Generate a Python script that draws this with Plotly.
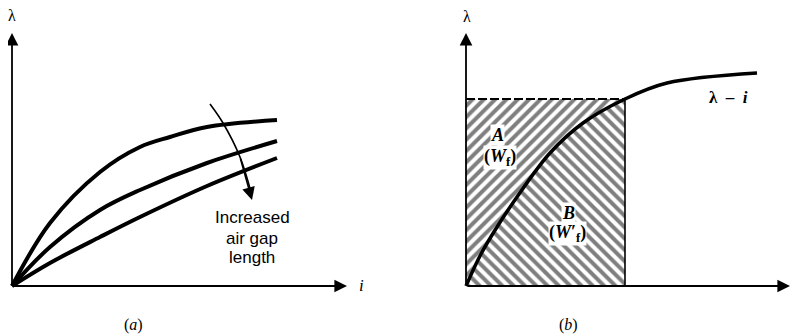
import plotly.graph_objects as go

# ---- panel (a): lambda-i curves for three air gap lengths ----
i_a = [0, 3.8, 8.8, 12.8, 15.8, 19.5, 26.5]
lam_top = [0, 6.3, 11.4, 13.9, 14.9, 15.9, 16.6]
i_ab = [0, 3.8, 8.8, 12.8, 19.5, 26.5]
lam_mid = [0, 3.9, 7.6, 9.6, 12.3, 14.5]
lam_low = [0, 2.3, 4.9, 6.9, 10.0, 12.8]

arrow_i = [19.8, 21.1, 22.8, 23.9]
arrow_lam = [18.2, 16.3, 12.9, 9.4]
arrow_tip = (24.0, 8.6)

# ---- panel (b): lambda-i curve with operating point ----
i_b = [0, 1.5, 3.1, 5.1, 8.4, 11.7, 15.9, 20.1, 29.1]
lam_b = [0, 3.2, 5.9, 8.9, 13.3, 16.3, 18.7, 20.3, 21.3]
i_op, lam_op = 15.9, 18.7
k_op = i_b.index(i_op)

axis_len_a = (33.5, 25.3)
axis_len_b = (32.4, 25.3)

serif = "Liberation Serif"
sans = "Liberation Sans"

fig = go.Figure()

# curves of panel (a)
fig.add_trace(go.Scatter(x=i_a, y=lam_top, mode="lines", line=dict(color="black", width=4, shape="spline"),
                         xaxis="x", yaxis="y"))
for lam in [lam_mid, lam_low]:
    fig.add_trace(go.Scatter(x=i_ab, y=lam, mode="lines", line=dict(color="black", width=4, shape="spline"),
                             xaxis="x", yaxis="y"))
# curved arrow shaft
fig.add_trace(go.Scatter(x=arrow_i, y=arrow_lam, mode="lines", line=dict(color="black", width=1.6, shape="spline"),
                         xaxis="x", yaxis="y"))

# whole rectangle hatched "/" (region A shows through above the curve)
fig.add_trace(go.Scatter(x=[0, 0, i_op, i_op], y=[0, lam_op, lam_op, 0], mode="lines", line=dict(width=0),
                         fill="toself", fillcolor="white",
                         fillpattern=dict(shape="/", fgcolor="black", bgcolor="white", size=8, solidity=0.5),
                         xaxis="x2", yaxis="y2"))
# region B (below curve) hatched "\" on top
fig.add_trace(go.Scatter(x=i_b[:k_op + 1], y=lam_b[:k_op + 1], mode="lines", line=dict(width=0, shape="spline"),
                         fill="tozeroy", fillcolor="white",
                         fillpattern=dict(shape="\\", fgcolor="black", bgcolor="white", size=8, solidity=0.5),
                         xaxis="x2", yaxis="y2"))
# dashed top and right edge
fig.add_trace(go.Scatter(x=[0, i_op], y=[lam_op, lam_op], mode="lines",
                         line=dict(color="black", width=2, dash="9px,3px"), xaxis="x2", yaxis="y2"))
fig.add_trace(go.Scatter(x=[i_op, i_op], y=[0, lam_op], mode="lines",
                         line=dict(color="black", width=1.6), xaxis="x2", yaxis="y2"))
# lambda-i curve
fig.add_trace(go.Scatter(x=i_b, y=lam_b, mode="lines", line=dict(color="black", width=3.5, shape="spline"),
                         xaxis="x2", yaxis="y2"))

ann = []
# axes with arrows
for xr, yr, (lx, ly) in [("x", "y", axis_len_a), ("x2", "y2", axis_len_b)]:
    ann.append(dict(x=lx, y=0, ax=0, ay=0, xref=xr, yref=yr, axref=xr, ayref=yr, showarrow=True,
                    arrowhead=2, arrowsize=1.4, arrowwidth=1.8, arrowcolor="black", text=""))
    ann.append(dict(x=0, y=ly, ax=0, ay=0, xref=xr, yref=yr, axref=xr, ayref=yr, showarrow=True,
                    arrowhead=2, arrowsize=1.4, arrowwidth=1.8, arrowcolor="black", text=""))
# curved arrow head
ann.append(dict(x=arrow_tip[0], y=arrow_tip[1], ax=arrow_i[-2], ay=arrow_lam[-2], xref="x", yref="y",
                axref="x", ayref="y", showarrow=True, arrowhead=2, arrowsize=1.6, arrowwidth=1.6,
                arrowcolor="black", text=""))

# axis labels
ann.append(dict(x=0, y=27.1, xref="x", yref="y", text="λ", showarrow=False, font=dict(family=serif, size=16, color="black")))
ann.append(dict(x=34.5, y=0.1, xref="x", yref="y", text="<i>i</i>", showarrow=False, xanchor="left",
                font=dict(family=serif, size=17, color="black")))
ann.append(dict(x=0.1, y=27.0, xref="x2", yref="y2", text="λ", showarrow=False, font=dict(family=serif, size=16, color="black")))

# air gap text
for txt, yy in [("Increased", 6.9), ("air gap", 4.8), ("length", 2.9)]:
    ann.append(dict(x=24.0, y=yy, xref="x", yref="y", text=txt, showarrow=False,
                    font=dict(family=sans, size=17, color="black")))

# region labels
lab_font = dict(family=serif, size=18, color="black")
for txt, xx, yy in [("<b><i>A</i></b>", 3.1, 15.1), ("<b>(<i>W</i><sub>f</sub>)</b>", 3.4, 12.9),
                    ("<b><i>B</i></b>", 10.2, 7.3), ("<b>(<i>W</i>′<sub>f</sub>)</b>", 10.1, 5.3)]:
    ann.append(dict(x=xx, y=yy, xref="x2", yref="y2", text=txt, showarrow=False, font=lab_font,
                    bgcolor="white", borderpad=0))

ann.append(dict(x=26.2, y=18.9, xref="x2", yref="y2", text="<b>λ  –  <i>i</i></b>", showarrow=False,
                font=dict(family=serif, size=17, color="black")))

# panel captions
ann.append(dict(x=12.1, y=-3.9, xref="x", yref="y", text="(<i>a</i>)", showarrow=False,
                font=dict(family=serif, size=16, color="black")))
ann.append(dict(x=10.2, y=-3.9, xref="x2", yref="y2", text="(<i>b</i>)", showarrow=False,
                font=dict(family=serif, size=16, color="black")))

# page body keeps an 8px margin, so the figure is 8px smaller than the window
hidden = dict(visible=False, fixedrange=True)
fig.update_layout(
    width=795, height=328,
    margin=dict(l=0, r=0, t=0, b=0),
    plot_bgcolor="white", paper_bgcolor="white",
    showlegend=False,
    xaxis=dict(domain=[0, 0.5], range=[-0.4, 39.35], **hidden),
    yaxis=dict(domain=[0, 1], range=[-5.0, 27.8], **hidden),
    xaxis2=dict(domain=[0.5, 1], range=[-6.05, 33.7], **hidden),
    yaxis2=dict(domain=[0, 1], range=[-5.0, 27.8], anchor="x2", **hidden),
    annotations=ann,
)

fig.write_html("out.html")
